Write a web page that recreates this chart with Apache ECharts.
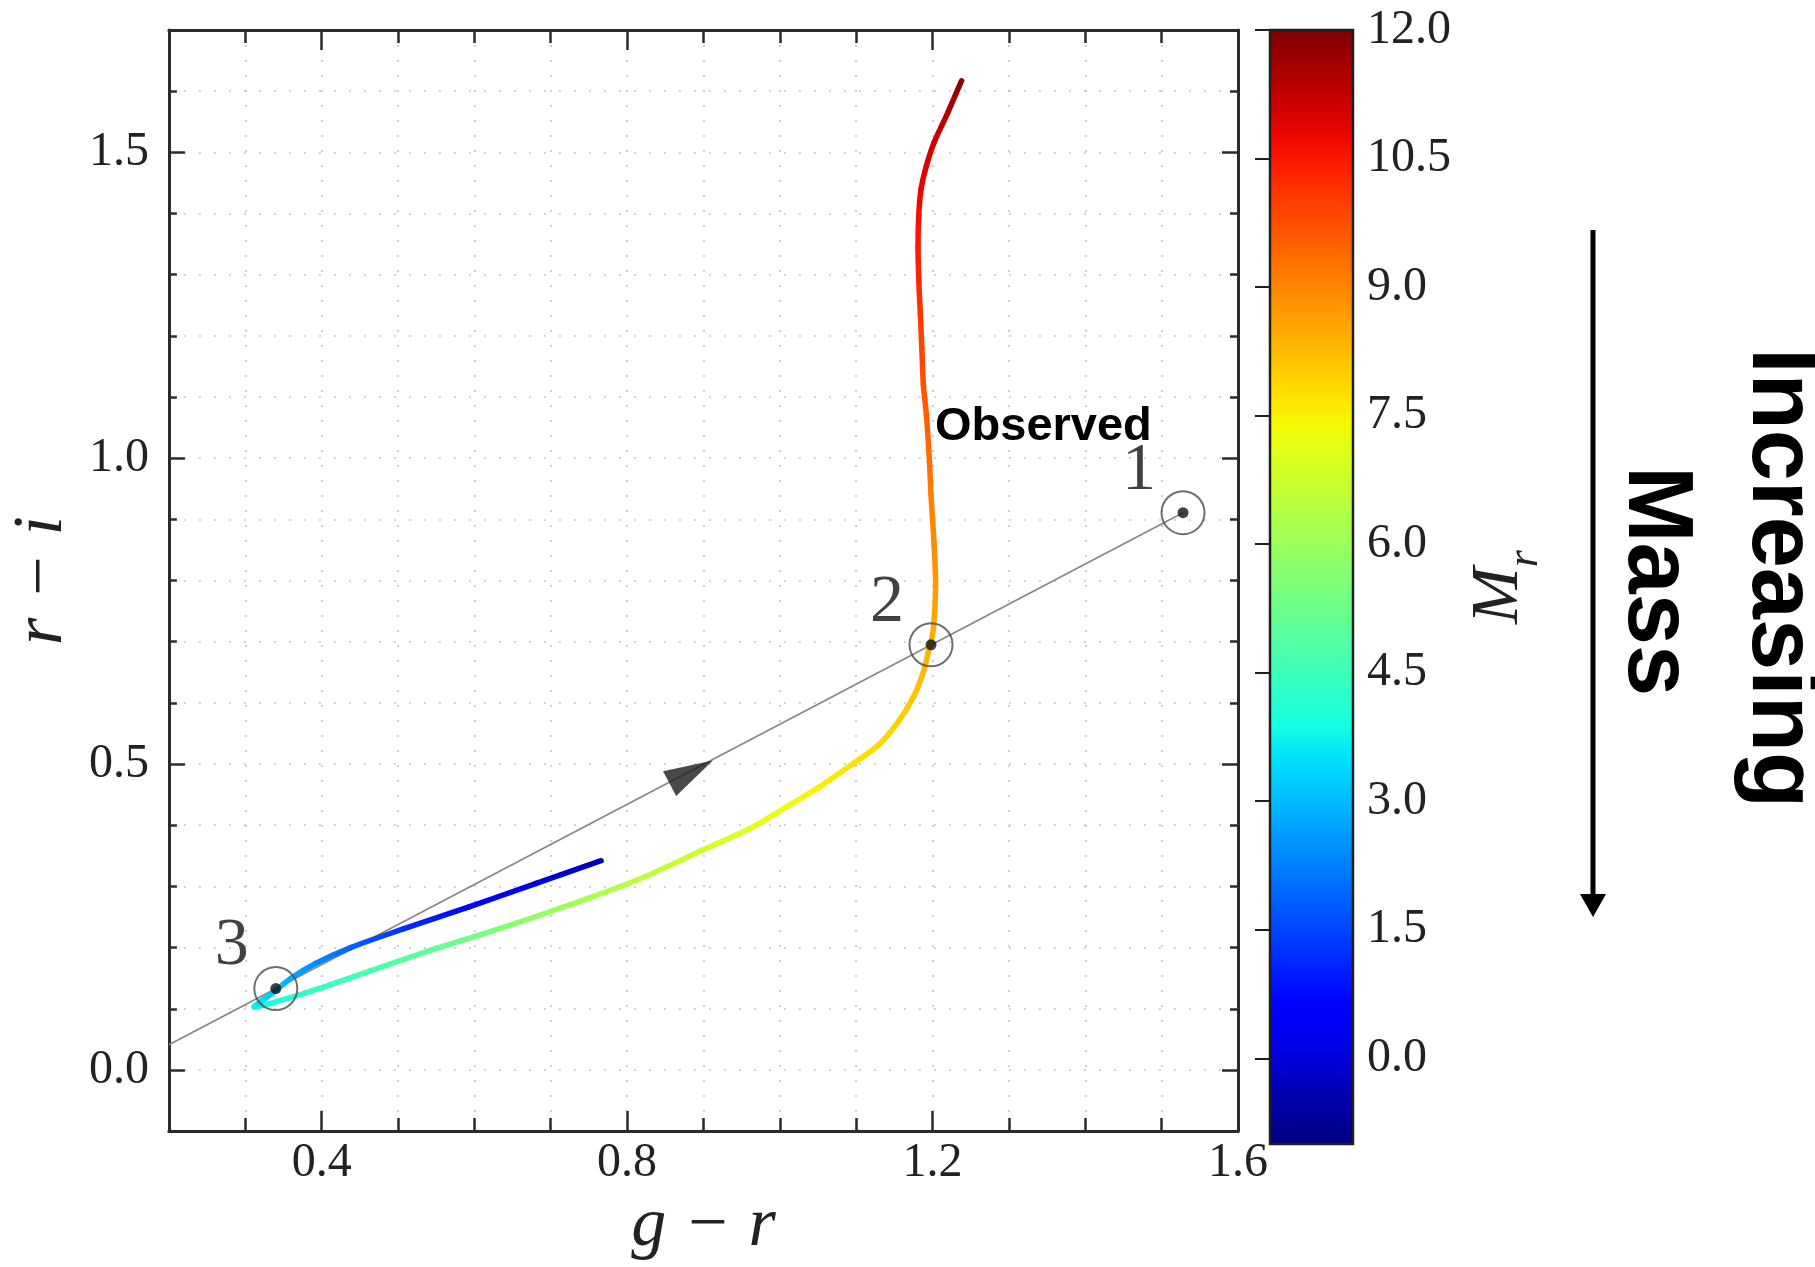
<!DOCTYPE html>
<html>
<head>
<meta charset="utf-8">
<script src="https://cdn.jsdelivr.net/npm/echarts@6/dist/echarts.min.js"></script>
<style>
html,body{margin:0;padding:0;background:#fff;}
#chart{width:1815px;height:1267px;}
</style>
</head>
<body>
<div id="chart"></div>
<script>
// ---------------- data ----------------
// track in colour-colour space, ordered from the top end to the blue end
const curveGR = [1.238,1.220,1.202,1.192,1.185,1.182,1.181,1.182,1.184,1.186,1.188,1.192,1.196,1.198,1.202,1.204,1.201,1.196,1.189,1.176,1.155,1.129,1.094,1.050,1.007,0.964,0.898,0.812,0.725,0.638,0.551,0.464,0.377,0.330,0.312,0.318,0.335,0.360,0.392,0.438,0.508,0.594,0.681,0.766];
const curveRI = [1.617,1.565,1.516,1.478,1.440,1.398,1.344,1.290,1.236,1.180,1.120,1.070,0.994,0.940,0.860,0.790,0.720,0.692,0.655,0.612,0.569,0.531,0.499,0.461,0.429,0.397,0.359,0.310,0.270,0.233,0.199,0.162,0.125,0.108,0.103,0.110,0.125,0.150,0.174,0.200,0.231,0.267,0.305,0.342];
const curveMr = [11.9,11.4,11.1,10.95,10.8,10.65,10.5,10.3,10.1,9.9,9.7,9.55,9.3,9.1,8.9,8.7,8.5,8.4,8.3,8.15,8.0,7.85,7.7,7.5,7.3,7.1,6.8,6.5,6.1,5.6,5.1,4.7,4.3,3.9,3.7,3.5,3.2,2.8,2.4,1.9,1.2,0.6,0.1,-0.4];

// numbered points and the straight line through them
const pointNames = ['1','2','3'];
const pointGR = [1.528, 1.198, 0.340];
const pointRI = [0.911, 0.695, 0.133];
const lineGR = [0.2, 1.528];
const lineRI = [0.041, 0.911];
const arrowGR = [0.884];
const arrowRI = [0.487];

// axis ticks / labels
const xMajor = [0.4, 0.8, 1.2, 1.6];
const yMajor = [0.0, 0.5, 1.0, 1.5];
const cbTicks = [0, 1.5, 3, 4.5, 6, 7.5, 9, 10.5, 12];
const cbMin = -1, cbMax = 12;

// ---------------- jet colormap ----------------
const JR = [[0,0],[0.35,0],[0.66,1],[0.89,1],[1,0.5]];
const JG = [[0,0],[0.125,0],[0.375,1],[0.64,1],[0.91,0],[1,0]];
const JB = [[0,0.5],[0.11,1],[0.34,1],[0.65,0],[1,0]];
function seg(t, pts){
  for (let k = 0; k < pts.length - 1; k++){
    if (t <= pts[k+1][0]){
      const a = pts[k], b = pts[k+1];
      return a[1] + (b[1]-a[1]) * (t - a[0]) / (b[0]-a[0]);
    }
  }
  return pts[pts.length-1][1];
}
function jetT(t){
  t = Math.max(0, Math.min(1, t));
  const r = Math.round(255*seg(t,JR)), g = Math.round(255*seg(t,JG)), b = Math.round(255*seg(t,JB));
  return 'rgb(' + r + ',' + g + ',' + b + ')';
}
function jet(v){ return jetT((v - cbMin) / (cbMax - cbMin)); }
const jetStops = [];
for (let k = 0; k <= 40; k++) jetStops.push(jetT(k/40));

// ---------------- chart ----------------
const chart = echarts.init(document.getElementById('chart'), null, {renderer:'canvas'});
const SERIF = 'Liberation Serif';
const FRAME = '#2b2b2b';

function xAx(pos, major, withLabels){
  return {
    type:'value', gridIndex:0, position:pos, min:0.2, max:1.6, interval:0.1,
    axisLine:{show:!major, onZero:false, lineStyle:{color:FRAME, width:3}},
    axisTick: major ? {show:true, inside:true, length:20, customValues:xMajor, lineStyle:{color:FRAME, width:2.5}}
                    : {show:true, inside:true, length:13, lineStyle:{color:FRAME, width:2.5}},
    axisLabel: withLabels ? {show:true, customValues:xMajor, margin:8, fontFamily:SERIF, fontSize:48, color:'#222',
                formatter: v => v.toFixed(1)} : {show:false},
    splitLine: withLabels ? {show:true, lineStyle:{color:'#c4c4c4', width:1.6, type:[2,13]}} : {show:false},
    name: withLabels ? 'g \u2212 r' : '', nameLocation:'middle', nameGap:46,
    nameTextStyle:{fontFamily:SERIF, fontStyle:'italic', fontSize:70, color:'#222'}
  };
}
function yAx(pos, major, withLabels){
  return {
    type:'value', gridIndex:0, position:pos, min:-0.1, max:1.7, interval:0.1,
    axisLine:{show:!major, onZero:false, lineStyle:{color:FRAME, width:3}},
    axisTick: major ? {show:true, inside:true, length:16, customValues:yMajor, lineStyle:{color:FRAME, width:2.5}}
                    : {show:true, inside:true, length:8, lineStyle:{color:FRAME, width:2.5}},
    axisLabel: withLabels ? {show:true, customValues:yMajor, margin:20, fontFamily:SERIF, fontSize:48, color:'#222',
                formatter: v => v.toFixed(1)} : {show:false},
    splitLine: withLabels ? {show:true, lineStyle:{color:'#c4c4c4', width:1.6, type:[2,13]}} : {show:false},
    name: withLabels ? 'r \u2212 i' : '', nameLocation:'middle', nameGap:84, nameRotate:90,
    nameTextStyle:{fontFamily:SERIF, fontStyle:'italic', fontSize:70, color:'#222'}
  };
}

const curveData = curveGR.map((x, i) => [x, curveRI[i], curveMr[i]]);
const pointData = pointGR.map((x, i) => ({name: pointNames[i], value:[x, pointRI[i]]}));

const option = {
  animation:false,
  backgroundColor:'#fff',
  grid:[
    {left:164, top:30, width:1074, height:1114, show:false},
    {left:1270, top:30, width:83, height:1114, show:true, z:10, backgroundColor:'transparent', borderColor:'#1e1e1e', borderWidth:2.5}
  ],
  xAxis:[
    xAx('bottom', false, true),
    xAx('bottom', true, false),
    xAx('top', false, false),
    xAx('top', true, false),
    {type:'value', gridIndex:1, min:0, max:1, show:false}
  ],
  yAxis:[
    yAx('left', false, true),
    yAx('left', true, false),
    yAx('right', false, false),
    yAx('right', true, false),
    {type:'value', gridIndex:1, position:'right', min:cbMin, max:cbMax, z:10,
     axisLine:{show:false},
     axisTick:{show:true, inside:true, length:15, customValues:cbTicks, lineStyle:{color:'#1e1e1e', width:2}},
     axisLabel:{show:true, customValues:cbTicks, margin:14, fontFamily:SERIF, fontSize:48, color:'#222', formatter: v => v.toFixed(1)},
     splitLine:{show:false},
     name:'{m|M}{s|r}', nameLocation:'middle', nameRotate:90, nameGap:112,
     nameTextStyle:{rich:{
       m:{fontFamily:SERIF, fontStyle:'italic', fontSize:68, color:'#222', verticalAlign:'bottom'},
       s:{fontFamily:SERIF, fontStyle:'italic', fontSize:44, color:'#222', verticalAlign:'bottom', padding:[0,0,-14,0]}
     }}
    }
  ],
  visualMap:{
    type:'continuous', min:cbMin, max:cbMax, dimension:2, seriesIndex:1,
    orient:'vertical', left:1270, top:30, itemWidth:83, itemHeight:1114, padding:0,
    calculable:false, hoverLink:false, text:null, inRange:{color:jetStops}, z:4
  },
  series:[
    {type:'line', xAxisIndex:0, yAxisIndex:0, data:lineGR.map((x,i)=>[x, lineRI[i]]), symbol:'none',
     lineStyle:{color:'#878787', width:1.7}, z:2, silent:true},
    {type:'custom', xAxisIndex:0, yAxisIndex:0, data:curveData, encode:{x:0, y:1}, z:3, silent:true,
     renderItem:function(params, api){
       const i = params.dataIndex, n = curveGR.length;
       if (i >= n - 1) return null;
       const P = k => { k = Math.max(0, Math.min(n-1, k)); return api.coord([curveGR[k], curveRI[k]]); };
       const p0 = P(i-1), p1 = P(i), p2 = P(i+1), p3 = P(i+2);
       const c1 = [p1[0] + (p2[0]-p0[0])/6, p1[1] + (p2[1]-p0[1])/6];
       const c2 = [p2[0] - (p3[0]-p1[0])/6, p2[1] - (p3[1]-p1[1])/6];
       const grad = new echarts.graphic.LinearGradient(p1[0], p1[1], p2[0]+0.01, p2[1]+0.01,
         [{offset:0, color:jet(curveMr[i])}, {offset:1, color:jet(curveMr[i+1])}], true);
       return {type:'bezierCurve',
         shape:{x1:p1[0], y1:p1[1], x2:p2[0], y2:p2[1], cpx1:c1[0], cpy1:c1[1], cpx2:c2[0], cpy2:c2[1]},
         style:{fill:'none', stroke:grad, lineWidth:5.5, lineCap:'round'}};
     }},
    {type:'scatter', xAxisIndex:0, yAxisIndex:0, data:pointData, symbol:'circle', symbolSize:43, z:4, silent:true,
     itemStyle:{color:'rgba(0,0,0,0)', borderColor:'#4a4a4a', borderWidth:2},
     label:{show:true, position:'inside', offset:[-44,-42], formatter:p => p.name,
            fontFamily:SERIF, fontSize:68, color:'#111', textBorderWidth:0}},
    {type:'scatter', xAxisIndex:0, yAxisIndex:0, data:pointData, symbol:'circle', symbolSize:11, z:5, silent:true,
     itemStyle:{color:'#111'}},
    {type:'scatter', xAxisIndex:0, yAxisIndex:0, data:arrowGR.map((x,i)=>[x, arrowRI[i]]), symbol:'triangle',
     symbolSize:[28,49], symbolRotate:-62, z:4, silent:true, itemStyle:{color:'#1c1c1c'}}
  ],
  graphic:[
    {type:'text', left:935, top:404, z:20, style:{text:'Observed', fontFamily:'Liberation Sans', fontWeight:'bold', fontSize:47, fill:'#000'}},
    {type:'text', x:1778, y:578, rotation:-Math.PI/2, z:20,
     style:{text:'Increasing', fontFamily:'Liberation Sans', fontWeight:'bold', fontSize:92, fill:'#000', align:'center', verticalAlign:'middle'}},
    {type:'text', x:1654, y:581, rotation:-Math.PI/2, z:20,
     style:{text:'Mass', fontFamily:'Liberation Sans', fontWeight:'bold', fontSize:92, fill:'#000', align:'center', verticalAlign:'middle'}},
    {type:'line', z:20, shape:{x1:1593, y1:230, x2:1593, y2:898}, style:{stroke:'#000', lineWidth:5}},
    {type:'polygon', z:20, shape:{points:[[1580,894],[1606,894],[1593,917]]}, style:{fill:'#000'}}
  ]
};
chart.setOption(option);
</script>
</body>
</html>
